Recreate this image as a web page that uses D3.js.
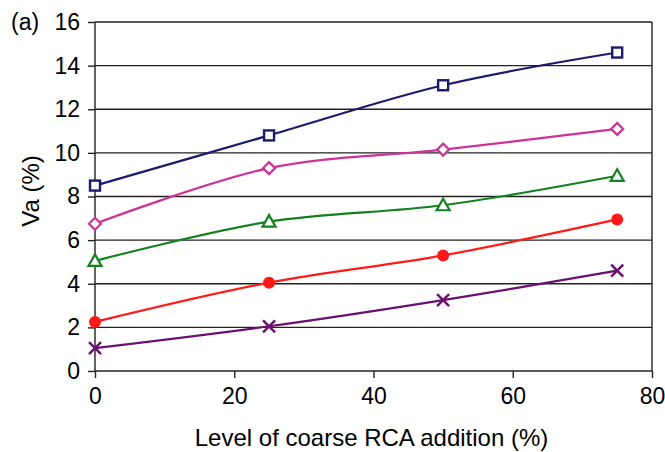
<!DOCTYPE html>
<html><head><meta charset="utf-8">
<script src="https://cdn.jsdelivr.net/npm/d3@7"></script>
<style>body{margin:0;background:#fff;} svg{display:block;} text{font-family:"Liberation Sans",Arial,sans-serif;fill:#000;}</style>
</head><body><svg id="c" width="665" height="452"></svg>
<script>
const levels = [0, 25, 50, 75];
const seriesA = [8.5, 10.8, 13.1, 14.6];
const seriesB = [6.75, 9.3, 10.15, 11.1];
const seriesC = [5.05, 6.85, 7.6, 8.95];
const seriesD = [2.25, 4.05, 5.3, 6.95];
const seriesE = [1.05, 2.05, 3.25, 4.6];
const xTicks = [0, 20, 40, 60, 80];
const yTicks = [0, 2, 4, 6, 8, 10, 12, 14, 16];

const series = [
  {vals: seriesA, color: "#1c1a6b", marker: "square"},
  {vals: seriesB, color: "#cc3399", marker: "diamond"},
  {vals: seriesC, color: "#15801f", marker: "triangle"},
  {vals: seriesD, color: "#ff1a1a", marker: "circle"},
  {vals: seriesE, color: "#6a1070", marker: "cross"}
];

const svg = d3.select("#c");
const x = d3.scaleLinear().domain([0, 80]).range([95, 652]);
const y = d3.scaleLinear().domain([0, 16]).range([371, 22]);

svg.append("g").selectAll("line").data(yTicks.filter(d => d > 0)).join("line")
  .attr("x1", x(0)).attr("x2", x(80)).attr("y1", d => y(d)).attr("y2", d => y(d))
  .attr("stroke", "#222").attr("stroke-width", 1.4);
svg.append("line").attr("x1", x(80)).attr("x2", x(80)).attr("y1", y(0)).attr("y2", y(16))
  .attr("stroke", "#222").attr("stroke-width", 1.4);

const yAxis = svg.append("g").attr("transform", `translate(${x(0)},0)`)
  .call(d3.axisLeft(y).tickValues(yTicks).tickSize(7).tickPadding(8).tickFormat(d3.format("d")));
const xAxis = svg.append("g").attr("transform", `translate(0,${y(0)})`)
  .call(d3.axisBottom(x).tickValues(xTicks).tickSize(7).tickPadding(10).tickFormat(d3.format("d")));
[yAxis, xAxis].forEach(a => {
  a.select(".domain").attr("stroke", "#222").attr("stroke-width", 1.4);
  a.selectAll(".tick line").attr("stroke", "#222").attr("stroke-width", 1.4);
  a.selectAll("text").style("font-size", "23px").attr("font-family", "Liberation Sans, Arial, sans-serif");
});
xAxis.select(".domain").attr("d", `M${x(0)},0H${x(80)}`);
yAxis.select(".domain").attr("d", `M0,${y(0)}V${y(16)}`);

const line = d3.line().x((d, i) => x(levels[i])).y(d => y(d)).curve(d3.curveCatmullRom.alpha(0.5));

series.forEach(s => {
  svg.append("path").datum(s.vals).attr("d", line).attr("fill", "none")
    .attr("stroke", s.color).attr("stroke-width", 2.2);
  const g = svg.append("g");
  s.vals.forEach((v, i) => {
    const cx = x(levels[i]), cy = y(v);
    if (s.marker === "square") {
      g.append("rect").attr("x", cx - 5).attr("y", cy - 5).attr("width", 10).attr("height", 10)
        .attr("fill", "#fff").attr("stroke", s.color).attr("stroke-width", 2.4);
    } else if (s.marker === "diamond") {
      g.append("path").attr("d", `M${cx},${cy-6}L${cx+6},${cy}L${cx},${cy+6}L${cx-6},${cy}Z`)
        .attr("fill", "#fff").attr("stroke", s.color).attr("stroke-width", 2.2);
    } else if (s.marker === "triangle") {
      g.append("path").attr("d", `M${cx},${cy-6.5}L${cx+6.5},${cy+5}L${cx-6.5},${cy+5}Z`)
        .attr("fill", "#fff").attr("stroke", s.color).attr("stroke-width", 2.2);
    } else if (s.marker === "circle") {
      g.append("circle").attr("cx", cx).attr("cy", cy).attr("r", 6).attr("fill", s.color);
    } else {
      g.append("path").attr("d", `M${cx-6},${cy-6}L${cx+6},${cy+6}M${cx+6},${cy-6}L${cx-6},${cy+6}`)
        .attr("stroke", s.color).attr("stroke-width", 2.4);
    }
  });
});

svg.append("text").attr("x", (x(0) + x(80)) / 2 - 2).attr("y", 446).attr("text-anchor", "middle")
  .style("font-size", "24px").text("Level of coarse RCA addition (%)");
svg.append("text").attr("transform", `translate(39,191) rotate(-90)`).attr("text-anchor", "middle")
  .style("font-size", "24px").text("Va (%)");
svg.append("text").attr("x", 11).attr("y", 30).style("font-size", "23px").text("(a)");
</script></body></html>
